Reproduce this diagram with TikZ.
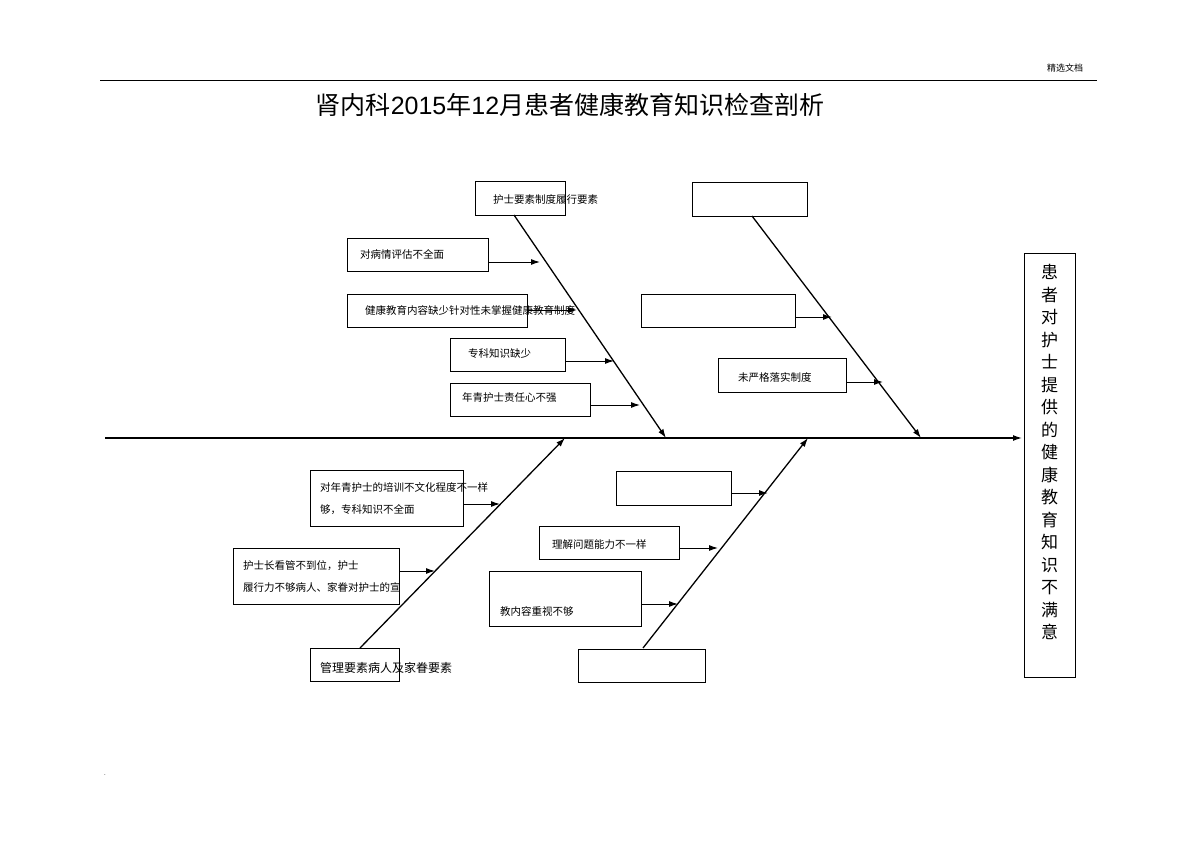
\documentclass[tikz,border=0pt]{standalone}
\usepackage{fontspec}
\setmainfont{Liberation Sans}
\newfontfamily\cjk{Noto Sans CJK SC}
\usetikzlibrary{arrows.meta}
\begin{document}
\begin{tikzpicture}[x=1pt,y=-1pt,
 bx/.style={draw,line width=1pt},
 lbl/.style={font=\cjk\fontsize{10.5}{14}\selectfont,anchor=west,inner sep=0},
 bone/.style={line width=1.3pt,-{Latex[length=9pt,width=6pt]}},
 sub/.style={line width=1pt,-{Latex[length=9pt,width=6pt]}}]
\useasboundingbox (0,0) rectangle (1200,848);
\draw[line width=0.6pt] (100,80) -- (1097,80);
\node[lbl,font=\cjk\fontsize{9}{11}\selectfont] (hd) at (1047,68) {精选文档};
\node[font=\cjk\fontsize{25}{30}\selectfont,inner sep=0] (title) at (570,105) {肾内科\fontspec{Liberation Sans}2015\cjk 年\fontspec{Liberation Sans}12\cjk 月患者健康教育知识检查剖析};
% spine and effect
\coordinate (s0) at (105,438);
\coordinate (s1) at (1022,438);
\draw[bone] (s0) -- (s1);
\draw[bx] (1024,253) rectangle (1075,677);
\node[font=\cjk\fontsize{17}{22.5}\selectfont,align=center,inner sep=0] (eff) at (1049.5,452) {患\\者\\对\\护\\士\\提\\供\\的\\健\\康\\教\\育\\知\\识\\不\\满\\意};
% top bones
\coordinate (t1a) at (514,215); \coordinate (t1b) at (666,438);
\coordinate (t2a) at (752,216); \coordinate (t2b) at (921,438);
\draw[bone] (t1a) -- (t1b);
\draw[bone] (t2a) -- (t2b);
\draw[bx] (475,182) rectangle (565,215); \node[lbl] (l1) at (493,199) {护士要素制度履行要素};
\draw[bx] (692,183) rectangle (807,216);
\draw[bx] (347,238) rectangle (488,271); \node[lbl] (l2) at (360,254) {对病情评估不全面};
\coordinate (a2) at (488,262); \coordinate (b2) at (540,262); \draw[sub] (a2) -- (b2);
\draw[bx] (347,294) rectangle (527,327); \node[lbl] (l3) at (365,310) {健康教育内容缺少针对性未掌握健康教育制度};
\coordinate (a3) at (527,310); \coordinate (b3) at (577,310); \draw[sub] (a3) -- (b3);
\draw[bx] (450,338) rectangle (565,371); \node[lbl] (l4) at (468,354) {专科知识缺少};
\coordinate (a4) at (565,361); \coordinate (b4) at (614,361); \draw[sub] (a4) -- (b4);
\draw[bx] (450,383) rectangle (590,416); \node[lbl] (l5) at (462,398) {年青护士责任心不强};
\coordinate (a5) at (590,405); \coordinate (b5) at (640,405); \draw[sub] (a5) -- (b5);
\draw[bx] (641,294) rectangle (795,327);
\coordinate (a6) at (795,317); \coordinate (b6) at (832,317); \draw[sub] (a6) -- (b6);
\draw[bx] (718,358) rectangle (846,392); \node[lbl] (l7) at (738,377) {未严格落实制度};
\coordinate (a7) at (846,382); \coordinate (b7) at (883,382); \draw[sub] (a7) -- (b7);
% bottom bones
\coordinate (u1a) at (360,648); \coordinate (u1b) at (565,438);
\coordinate (u2a) at (643,648); \coordinate (u2b) at (808,438);
\draw[bone] (u1a) -- (u1b);
\draw[bone] (u2a) -- (u2b);
\draw[bx] (310,470) rectangle (463,526);
\node[lbl,align=left,font=\cjk\fontsize{10.5}{22}\selectfont] (l8) at (320,499) {对年青护士的培训不文化程度不一样\\够，专科知识不全面};
\coordinate (a8) at (463,504); \coordinate (b8) at (500,504); \draw[sub] (a8) -- (b8);
\draw[bx] (233,548) rectangle (399,604);
\node[lbl,align=left,font=\cjk\fontsize{10.5}{22}\selectfont] (l9) at (243,576) {护士长看管不到位，护士\\履行力不够病人、家眷对护士的宣};
\coordinate (a9) at (399,571); \coordinate (b9) at (435,571); \draw[sub] (a9) -- (b9);
\draw[bx] (310,648) rectangle (399,681); \node[lbl,font=\cjk\fontsize{12}{14}\selectfont] (l10) at (320,668) {管理要素病人及家眷要素};
\draw[bx] (616,471) rectangle (731,505);
\coordinate (a11) at (731,493); \coordinate (b11) at (768,493); \draw[sub] (a11) -- (b11);
\draw[bx] (539,526) rectangle (679,559); \node[lbl] (l12) at (552,545) {理解问题能力不一样};
\coordinate (a12) at (679,548); \coordinate (b12) at (718,548); \draw[sub] (a12) -- (b12);
\draw[bx] (489,571) rectangle (641,626); \node[lbl] (l13) at (500,611) {教内容重视不够};
\coordinate (a13) at (641,604); \coordinate (b13) at (678,604); \draw[sub] (a13) -- (b13);
\draw[bx] (578,649) rectangle (705,682);
\node[inner sep=0,font=\fontsize{6}{6}\selectfont] (dot) at (105,775) {.};
\end{tikzpicture}
\end{document}
